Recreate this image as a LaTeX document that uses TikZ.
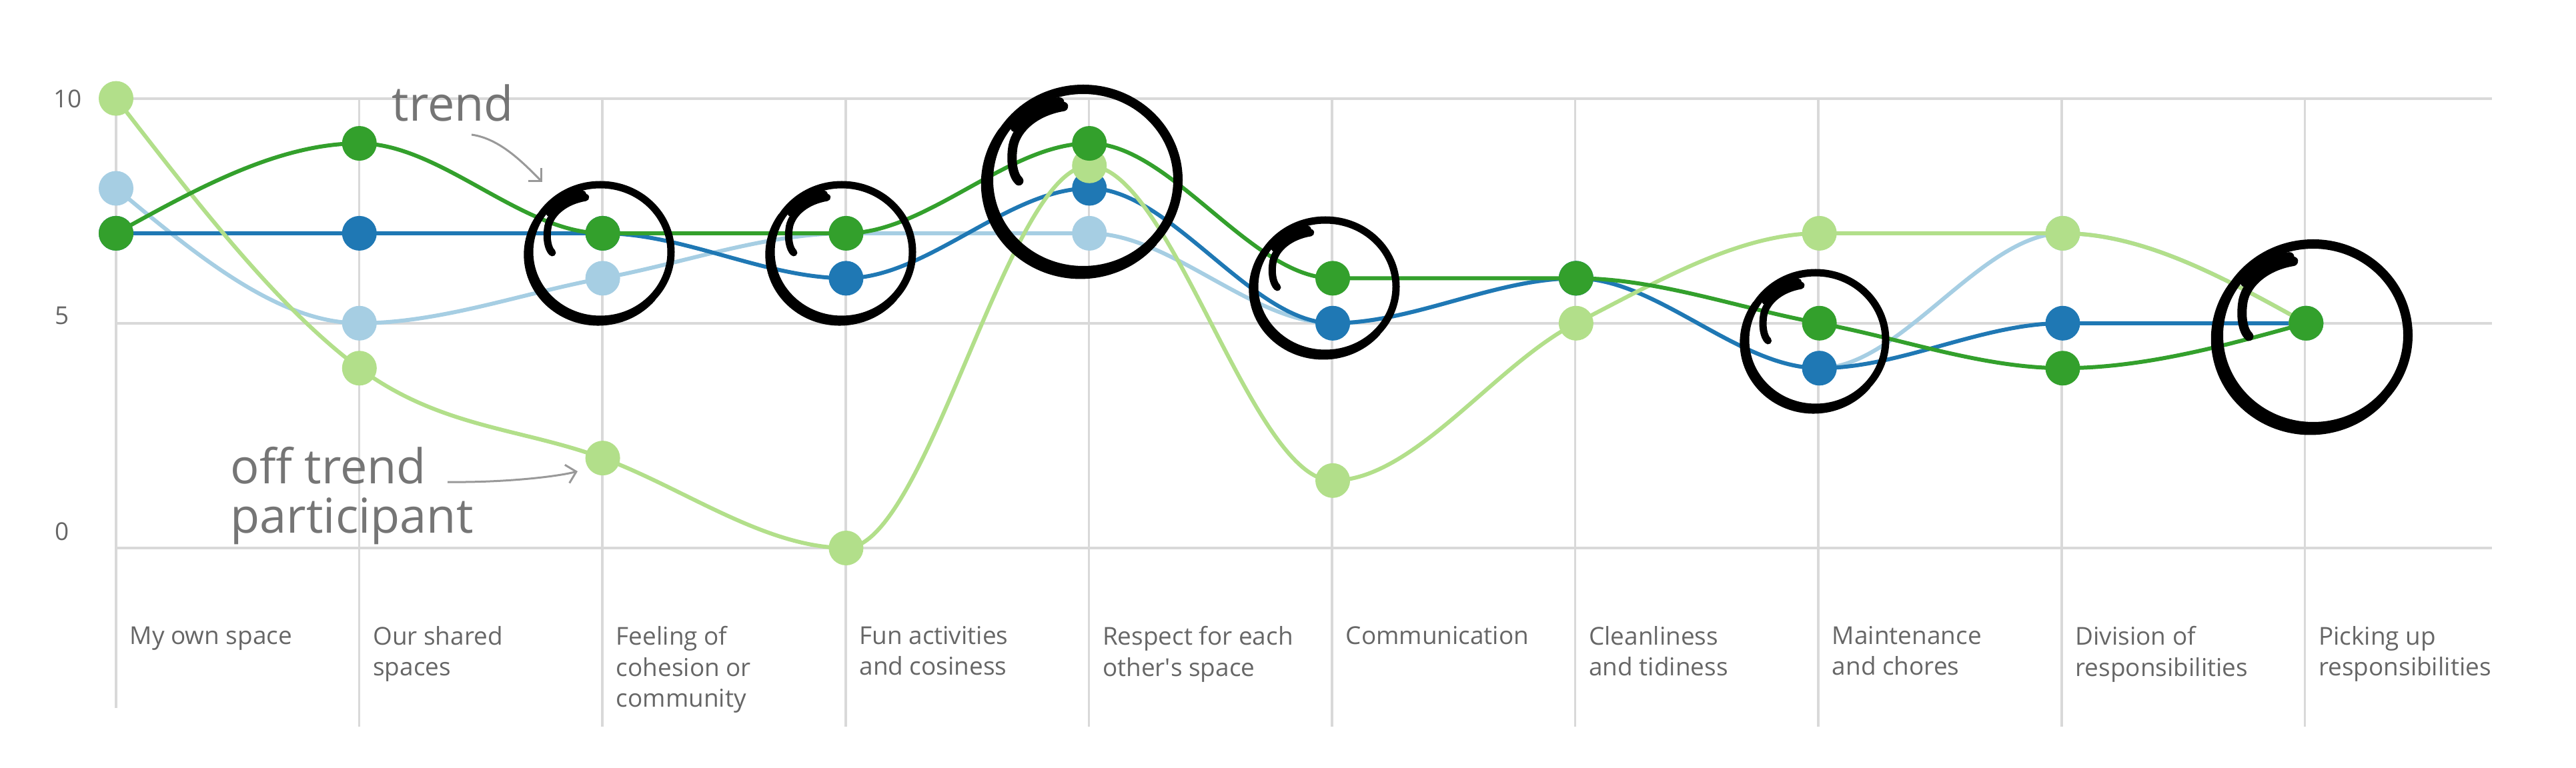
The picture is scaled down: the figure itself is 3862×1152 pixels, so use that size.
\documentclass[tikz,border=0pt]{standalone}
\usepackage{fontspec}
\setmainfont{Open Sans}
\usetikzlibrary{arrows.meta, positioning}

\definecolor{trendgreen}{HTML}{33A02C}
\definecolor{trendblue}{HTML}{1F78B4}
\definecolor{paleblue}{HTML}{A6CEE3}
\definecolor{palegreen}{HTML}{B2DF8A}
\definecolor{gridgray}{HTML}{D9D9D9}
\definecolor{labelgray}{HTML}{666666}
\definecolor{arrowgray}{HTML}{999999}

% hand drawn ring: centre x, centre y, radius x, radius y, pen
\newcommand{\scrawl}[5]{%
  \begin{scope}[shift={(#1,#2)}, xscale=#3, yscale=#4, line width=#5, line cap=round]
    \draw (0,0) ellipse (1 and 1);
    \draw (-0.03,0.04) ++(40:1) arc[start angle=40, end angle=215, radius=1];
    \draw (-0.25,-0.86) .. controls (-0.45,-0.85) and (-0.62,-0.75) .. (-0.72,-0.58);
    \draw (-0.21,-0.81) .. controls (-0.5,-0.76) and (-0.7,-0.58) .. (-0.74,-0.38)
      .. controls (-0.77,-0.2) and (-0.74,-0.05) .. (-0.68,0.01);
    \fill (-0.25,-0.82) ellipse (0.09 and 0.05);
  \end{scope}}

\begin{document}
\begin{tikzpicture}[
    x=0.01cm, y=-0.01cm,
    gridline/.style={draw=gridgray, line width=0.035cm},
    series/.style={line width=0.06cm},
    dot/.style={circle, inner sep=0pt, minimum size=0.52cm},
    catlabel/.style={anchor=north west, inner sep=0pt, align=left, text=labelgray,
      font=\fontsize{10.5pt}{13.1pt}\selectfont},
    ticklabel/.style={anchor=west, inner sep=0pt, text=labelgray,
      font=\fontsize{10.5pt}{13pt}\selectfont},
    annot/.style={inner sep=0pt, align=left, text=labelgray, text opacity=0.9,
      font=\fontsize{20.5pt}{21pt}\selectfont},
    pointer/.style={draw=arrowgray, line width=0.03cm, -{Straight Barb[length=4pt,width=8pt]}}
  ]
  \useasboundingbox (0,0) rectangle (3862,1152);

  % grid
  \foreach \y in {148, 485, 822}
    \draw[gridline] (176,\y) -- (3736,\y);
  \draw[gridline] (174,148) -- (174,1062);
  \foreach \i in {1,...,9}
    \draw[gridline] (174+364.6*\i,148) -- (174+364.6*\i,1090);

  \node[ticklabel] (y10) at (80,148) {10};
  \node[ticklabel] (y5) at (82,474) {5};
  \node[ticklabel] (y0) at (82,797) {0};

  \foreach \lbl [count=\i from 0] in {My own space, {Our shared\\spaces},
      {Feeling of\\cohesion or\\community}, {Fun activities\\and cosiness},
      {Respect for each\\other\textquotesingle s space}, Communication,
      {Cleanliness\\and tidiness}, {Maintenance\\and chores},
      {Division of\\responsibilities}, {Picking up\\responsibilities}}
    \node[catlabel] (cat\i) at (194+364.6*\i,939) {\lbl};

  % series
  \begin{scope}[shift={(174,822)}, x=3.646cm, y=0.674cm]
    \draw[series, paleblue] (0,8) .. controls (0.333,6.5) and (0.667,5) .. (1,5)
      .. controls (1.333,5) and (1.667,5.667) .. (2,6)
      .. controls (2.333,6.333) and (2.667,7) .. (3,7)
      -- (4,7)
      .. controls (4.333,7) and (4.667,5) .. (5,5)
      .. controls (5.333,5) and (5.667,6) .. (6,6)
      .. controls (6.333,6) and (6.667,4) .. (7,4)
      .. controls (7.333,4) and (7.667,7) .. (8,7)
      .. controls (8.333,7) and (8.667,6) .. (9,5);
    \foreach \v [count=\i from 0] in {8,5,6,7,7,5,6,4,7,5}
      \node[dot, fill=paleblue] (pb\i) at (\i,\v) {};

    \draw[series, trendblue] (0,7) -- (2,7)
      .. controls (2.333,7) and (2.667,6) .. (3,6)
      .. controls (3.333,6) and (3.667,8) .. (4,8)
      .. controls (4.333,8) and (4.667,5) .. (5,5)
      .. controls (5.333,5) and (5.667,6) .. (6,6)
      .. controls (6.333,6) and (6.667,4) .. (7,4)
      .. controls (7.333,4) and (7.667,5) .. (8,5)
      -- (9,5);
    \foreach \v [count=\i from 0] in {7,7,7,6,8,5,6,4,5,5}
      \node[dot, fill=trendblue] (tb\i) at (\i,\v) {};

    \draw[series, palegreen] (0,10) .. controls (0.333,7.667) and (0.667,5.333) .. (1,4)
      .. controls (1.333,2.667) and (1.667,2.667) .. (2,2)
      .. controls (2.333,1.333) and (2.667,0) .. (3,0)
      .. controls (3.333,0) and (3.667,8.5) .. (4,8.5)
      .. controls (4.333,8.5) and (4.667,1.5) .. (5,1.5)
      .. controls (5.333,1.5) and (5.667,4.083) .. (6,5)
      .. controls (6.333,5.917) and (6.667,7) .. (7,7)
      -- (8,7)
      .. controls (8.333,7) and (8.667,6) .. (9,5);
    \foreach \v [count=\i from 0] in {10,4,2,0,8.5,1.5,5,7,7,5}
      \node[dot, fill=palegreen] (pg\i) at (\i,\v) {};

    \draw[series, trendgreen] (0,7) .. controls (0.333,8) and (0.667,9) .. (1,9)
      .. controls (1.333,9) and (1.667,7) .. (2,7)
      -- (3,7)
      .. controls (3.333,7) and (3.667,9) .. (4,9)
      .. controls (4.333,9) and (4.667,6) .. (5,6)
      -- (6,6)
      .. controls (6.333,6) and (6.667,5.333) .. (7,5)
      .. controls (7.333,4.667) and (7.667,4) .. (8,4)
      .. controls (8.333,4) and (8.667,4.5) .. (9,5);
    \foreach \v [count=\i from 0] in {7,9,7,7,9,6,6,5,4,5}
      \node[dot, fill=trendgreen] (tg\i) at (\i,\v) {};
  \end{scope}

  % rings
  \scrawl{900}{378}{106}{101}{0.11cm}
  \scrawl{1262}{378}{106}{101}{0.11cm}
  \scrawl{1624}{270}{142}{136}{0.14cm}
  \scrawl{1987}{430}{106}{100}{0.11cm}
  \scrawl{2722}{510}{105}{101}{0.11cm}
  \scrawl{3468}{503}{142}{137}{0.14cm}

  % annotations
  \node[annot, anchor=base west] (trend) at (587,182) {trend};
  \node[annot, anchor=north west] (offtrend) at (345,670) {off trend\\participant};
  \coordinate (trendtail) at (707,202);
  \coordinate (trendtip) at (813,273);
  \coordinate (offtail) at (671,723);
  \coordinate (offtip) at (866,707);
  \draw[pointer] (trendtail) .. controls (750,208) and (785,245) .. (trendtip);
  \draw[pointer] (offtail) .. controls (750,724) and (830,716) .. (offtip);
\end{tikzpicture}
\end{document}
